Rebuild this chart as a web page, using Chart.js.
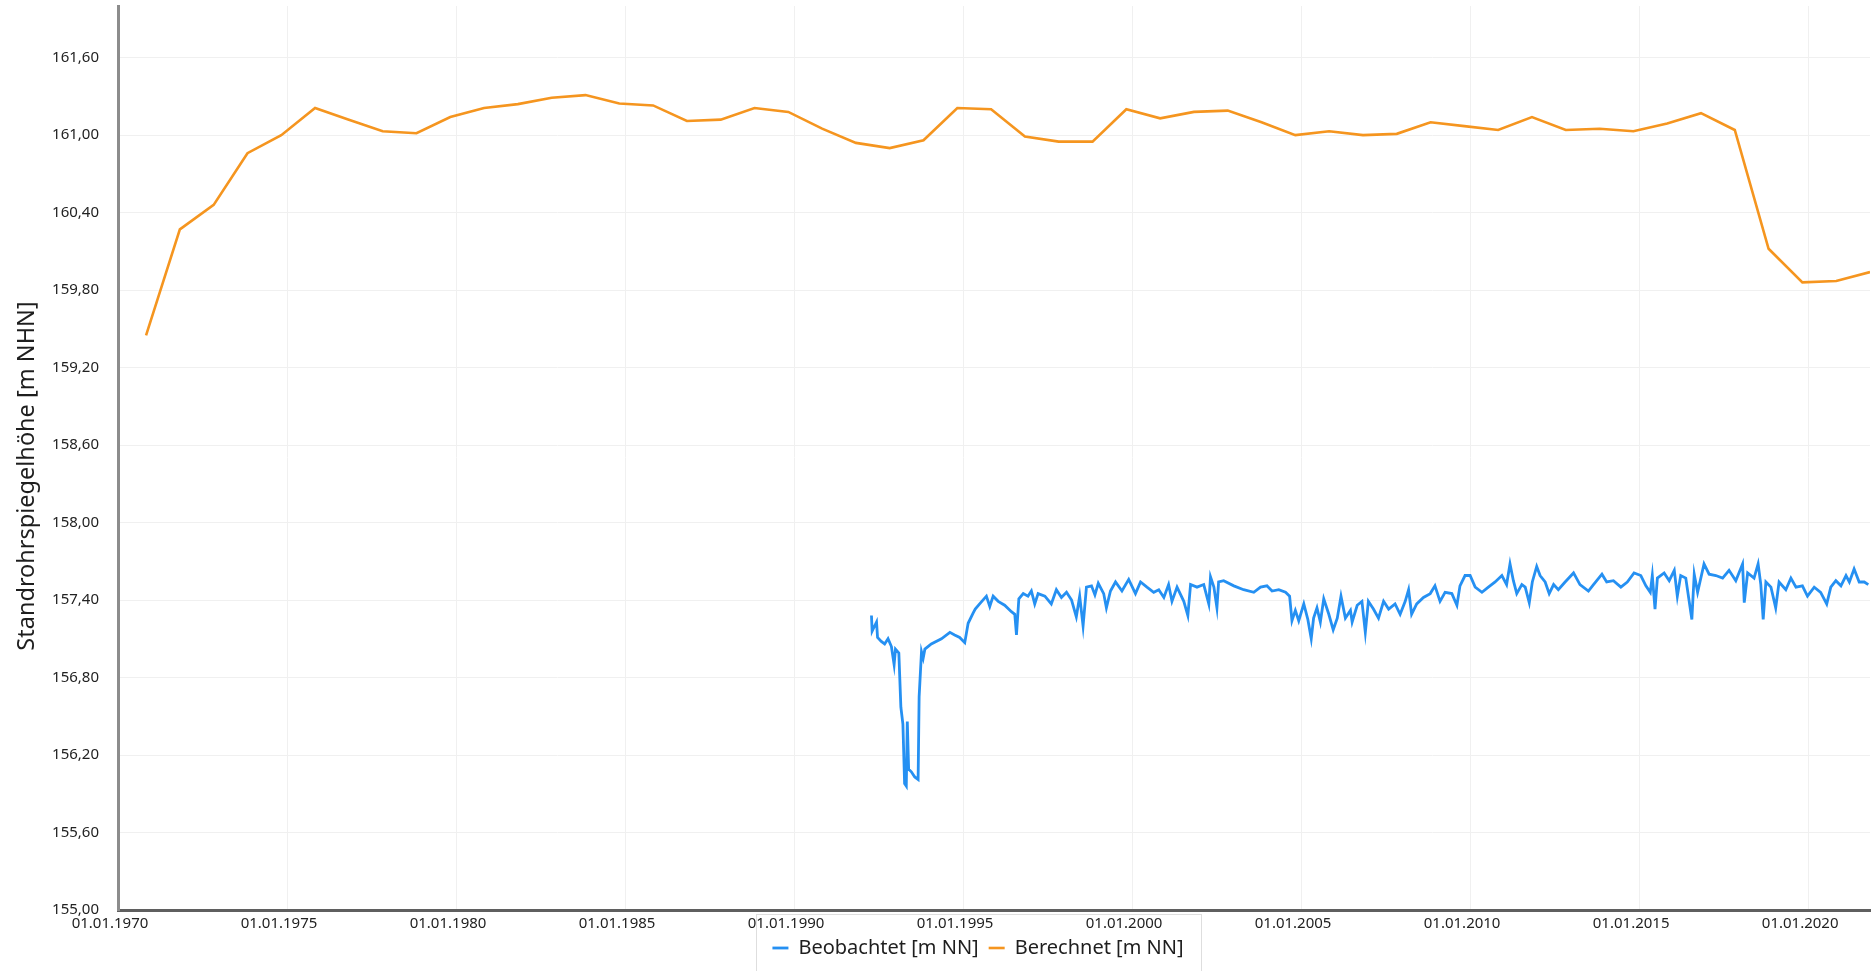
<!DOCTYPE html>
<html>
<head>
<meta charset="utf-8">
<script src="https://cdn.jsdelivr.net/npm/chart.js@4/dist/chart.umd.min.js"></script>
<style>
  html, body { margin: 0; padding: 0; background: #ffffff; }
  #wrap { width: 1875px; height: 971px; position: relative; }
</style>
</head>
<body>
<div id="wrap"><canvas id="c"></canvas></div>
<script>
// ---- Data (time as decimal years) ----
const seriesNames = ['Beobachtet [m NN]', 'Berechnet [m NN]'];
const yAxisTitle = 'Standrohrspiegelhöhe [m NHN]';

const xTicks = [1970, 1975, 1980, 1985, 1990, 1995, 2000, 2005, 2010, 2015, 2020];
const yTicks = [155.0, 155.6, 156.2, 156.8, 157.4, 158.0, 158.6, 159.2, 159.8, 160.4, 161.0, 161.6];

const calcYears = [1970.83, 1971.83, 1972.83, 1973.83, 1974.83, 1975.83, 1976.83, 1977.83, 1978.83, 1979.83,
  1980.83, 1981.83, 1982.83, 1983.83, 1984.83, 1985.83, 1986.83, 1987.83, 1988.83, 1989.83,
  1990.83, 1991.83, 1992.83, 1993.83, 1994.83, 1995.83, 1996.83, 1997.83, 1998.83, 1999.83,
  2000.83, 2001.83, 2002.83, 2003.83, 2004.83, 2005.83, 2006.83, 2007.83, 2008.83, 2009.83,
  2010.83, 2011.83, 2012.83, 2013.83, 2014.83, 2015.83, 2016.83, 2017.83, 2018.83, 2019.83,
  2020.83, 2021.83];
const calcValues = [159.45, 160.27, 160.46, 160.86, 161.00, 161.21, 161.12, 161.03, 161.015, 161.14,
  161.21, 161.24, 161.29, 161.31, 161.245, 161.23, 161.11, 161.12, 161.21, 161.18,
  161.05, 160.94, 160.90, 160.96, 161.21, 161.20, 160.99, 160.95, 160.95, 161.20,
  161.13, 161.18, 161.19, 161.10, 161.00, 161.03, 161.00, 161.01, 161.10, 161.07,
  161.04, 161.14, 161.04, 161.05, 161.03, 161.09, 161.17, 161.04, 160.12, 159.86,
  159.87, 159.94];

const obsYears = [
  1992.29, 1992.31, 1992.44, 1992.47, 1992.58, 1992.68, 1992.78, 1992.88, 1992.96, 1993.00,
  1993.10, 1993.16, 1993.22, 1993.27, 1993.32, 1993.35, 1993.39, 1993.47, 1993.57, 1993.67,
  1993.70, 1993.77, 1993.82, 1993.87, 1994.06, 1994.36, 1994.61, 1994.75, 1994.90, 1995.05,
  1995.15, 1995.30, 1995.36, 1995.49, 1995.69, 1995.79, 1995.89, 1996.04, 1996.23, 1996.43,
  1996.53, 1996.58, 1996.65, 1996.78, 1996.92, 1997.02, 1997.12, 1997.22, 1997.42, 1997.61,
  1997.76, 1997.91, 1998.06, 1998.21, 1998.35, 1998.45, 1998.55, 1998.65, 1998.80, 1998.90,
  1999.00, 1999.16, 1999.24, 1999.36, 1999.51, 1999.70, 1999.90, 2000.10, 2000.25, 2000.44,
  2000.64, 2000.79, 2000.94, 2001.08, 2001.18, 2001.33, 2001.53, 2001.65, 2001.73, 2001.92,
  2002.12, 2002.27, 2002.32, 2002.42, 2002.51, 2002.56, 2002.71, 2003.01, 2003.30, 2003.60,
  2003.80, 2003.99, 2004.14, 2004.34, 2004.54, 2004.66, 2004.73, 2004.83, 2004.93, 2005.08,
  2005.20, 2005.30, 2005.37, 2005.47, 2005.57, 2005.67, 2005.82, 2005.95, 2006.07, 2006.18,
  2006.31, 2006.46, 2006.51, 2006.66, 2006.80, 2006.90, 2006.99, 2007.14, 2007.29, 2007.44,
  2007.59, 2007.78, 2007.93, 2008.08, 2008.18, 2008.27, 2008.42, 2008.62, 2008.82, 2008.96,
  2009.11, 2009.26, 2009.46, 2009.61, 2009.70, 2009.85, 2010.00, 2010.15, 2010.35, 2010.54,
  2010.74, 2010.94, 2011.08, 2011.18, 2011.28, 2011.38, 2011.53, 2011.63, 2011.75, 2011.84,
  2011.97, 2012.07, 2012.22, 2012.34, 2012.47, 2012.61, 2012.81, 2013.06, 2013.25, 2013.50,
  2013.65, 2013.90, 2014.04, 2014.24, 2014.46, 2014.65, 2014.85, 2015.05, 2015.20, 2015.33,
  2015.39, 2015.47, 2015.54, 2015.74, 2015.89, 2016.04, 2016.13, 2016.23, 2016.38, 2016.56,
  2016.63, 2016.73, 2016.92, 2017.07, 2017.27, 2017.47, 2017.66, 2017.86, 2018.06, 2018.11,
  2018.21, 2018.40, 2018.52, 2018.60, 2018.67, 2018.75, 2018.90, 2019.04, 2019.14, 2019.34,
  2019.49, 2019.64, 2019.83, 2019.98, 2020.18, 2020.37, 2020.55, 2020.67, 2020.82, 2020.97,
  2021.12, 2021.22, 2021.36, 2021.51, 2021.66, 2021.78];
const obsValues = [
  157.28, 157.16, 157.23, 157.11, 157.08, 157.06, 157.10, 157.04, 156.90, 157.02,
  156.99, 156.57, 156.44, 155.98, 155.96, 156.46, 156.09, 156.07, 156.03, 156.01,
  156.65, 157.00, 156.95, 157.02, 157.06, 157.10, 157.15, 157.13, 157.11, 157.07,
  157.22, 157.30, 157.33, 157.37, 157.43, 157.35, 157.43, 157.39, 157.36, 157.31,
  157.29, 157.13, 157.41, 157.45, 157.43, 157.47, 157.37, 157.45, 157.43, 157.37,
  157.48, 157.42, 157.46, 157.40, 157.27, 157.43, 157.20, 157.50, 157.51, 157.44,
  157.53, 157.45, 157.34, 157.47, 157.54, 157.47, 157.56, 157.45, 157.54, 157.50,
  157.46, 157.48, 157.42, 157.52, 157.39, 157.50, 157.39, 157.28, 157.52, 157.50,
  157.52, 157.37, 157.58, 157.50, 157.34, 157.54, 157.55, 157.51, 157.48, 157.46,
  157.50, 157.51, 157.47, 157.48, 157.46, 157.43, 157.24, 157.32, 157.24, 157.37,
  157.25, 157.10, 157.26, 157.34, 157.23, 157.41, 157.29, 157.17, 157.26, 157.43,
  157.26, 157.32, 157.23, 157.36, 157.39, 157.15, 157.39, 157.33, 157.26, 157.39,
  157.33, 157.37, 157.29, 157.39, 157.48, 157.29, 157.37, 157.42, 157.45, 157.51,
  157.39, 157.46, 157.45, 157.36, 157.51, 157.59, 157.59, 157.50, 157.46, 157.50,
  157.54, 157.59, 157.52, 157.68, 157.55, 157.45, 157.52, 157.50, 157.38, 157.54,
  157.66, 157.59, 157.54, 157.45, 157.52, 157.48, 157.54, 157.61, 157.52, 157.47,
  157.52, 157.60, 157.54, 157.55, 157.50, 157.54, 157.61, 157.59, 157.51, 157.46,
  157.59, 157.33, 157.57, 157.61, 157.55, 157.63, 157.43, 157.59, 157.57, 157.25,
  157.60, 157.46, 157.68, 157.60, 157.59, 157.57, 157.63, 157.55, 157.68, 157.38,
  157.61, 157.57, 157.68, 157.52, 157.25, 157.54, 157.50, 157.34, 157.54, 157.48,
  157.57, 157.50, 157.51, 157.43, 157.50, 157.46, 157.37, 157.50, 157.55, 157.51,
  157.59, 157.54, 157.64, 157.54, 157.54, 157.52];

const xMin = 1970, xMax = 2021.83;
const yMin = 155, yMax = 162;

// ---- Build chart ----
const toPoints = (xs, ys) => xs.map((x, i) => ({ x: x, y: ys[i] }));
const FONT = "'Noto Sans', 'Open Sans', sans-serif";

const decorations = {
  id: 'decorations',
  afterUpdate(chart) {
    const l = chart.legend;
    if (!l) return;
    l.left -= 16; l.right -= 16;
    if (l.adjustHitBoxes) l.adjustHitBoxes();
  },
  beforeDraw(chart) {
    const l = chart.legend;
    if (!l || !l.legendHitBoxes || !l.legendHitBoxes.length) return;
    const hb = l.legendHitBoxes;
    const x0 = hb[0].left - 16;
    const last = hb[hb.length - 1];
    const x1 = last.left + last.width + 18;
    const y0 = chart.chartArea.bottom + 4;
    const ctx = chart.ctx;
    ctx.save();
    ctx.strokeStyle = '#dedede';
    ctx.lineWidth = 1;
    ctx.strokeRect(Math.round(x0) + 0.5, Math.round(y0) + 0.5, Math.round(x1 - x0), chart.height - y0 + 2);
    ctx.restore();
  },
  afterDraw(chart) {
    const ca = chart.chartArea;
    const ctx = chart.ctx;
    ctx.save();
    ctx.translate(27, (ca.top + ca.bottom) / 2 + 18);
    ctx.rotate(-Math.PI / 2);
    ctx.textAlign = 'center';
    ctx.textBaseline = 'middle';
    ctx.fillStyle = '#1e1e1e';
    ctx.font = "23.5px " + FONT;
    ctx.fillText(yAxisTitle, 0, 0);
    ctx.restore();
  }
};

new Chart(document.getElementById('c'), {
  type: 'line',
  data: {
    datasets: [
      {
        label: seriesNames[0],
        data: toPoints(obsYears, obsValues),
        borderColor: '#2590f2',
        backgroundColor: '#2590f2',
        borderWidth: 2.8,
        pointRadius: 0,
        tension: 0,
        fill: false
      },
      {
        label: seriesNames[1],
        data: toPoints(calcYears, calcValues),
        borderColor: '#f5951f',
        backgroundColor: '#f5951f',
        borderWidth: 2.6,
        pointRadius: 0,
        tension: 0,
        fill: false
      }
    ]
  },
  options: {
    responsive: true,
    maintainAspectRatio: false,
    animation: false,
    layout: { padding: { top: 6, right: 5, bottom: 3, left: 0 } },
    plugins: {
      tooltip: { enabled: false },
      legend: {
        position: 'bottom',
        fullSize: false,
        align: 'center',
        labels: {
          usePointStyle: true,
          pointStyle: 'line',
          pointStyleWidth: 16,
          padding: 10,
          color: '#1e1e1e',
          font: { family: FONT, size: 20 }
        }
      }
    },
    scales: {
      x: {
        type: 'linear',
        min: xMin,
        max: xMax,
        afterBuildTicks: (s) => { s.ticks = xTicks.map(v => ({ value: v })); },
        afterFit: (s) => { s.paddingLeft = 0; s.paddingRight = 0; s.height = 18; },
        ticks: {
          autoSkip: false,
          maxRotation: 0,
          padding: 5,
          labelOffset: -8,
          color: '#222222',
          font: { family: FONT, size: 15 },
          callback: (v) => '01.01.' + v
        },
        grid: { color: '#f0f0f0', lineWidth: 1, drawTicks: false },
        border: { color: '#5f5f5f', width: 3 }
      },
      y: {
        type: 'linear',
        min: yMin,
        max: yMax,
        afterBuildTicks: (s) => { s.ticks = yTicks.map(v => ({ value: v })); },
        afterFit: (s) => { s.width = 118; s.paddingTop = 0; s.paddingBottom = 0; },
        ticks: {
          padding: 19,
          color: '#222222',
          font: { family: FONT, size: 15 },
          callback: (v) => Number(v).toFixed(2).replace('.', ',')
        },
        grid: { color: '#f0f0f0', lineWidth: 1, drawTicks: false },
        border: { color: '#8c8c8c', width: 3 },
        title: { display: false }
      }
    }
  },
  plugins: [decorations]
});
</script>
</body>
</html>
